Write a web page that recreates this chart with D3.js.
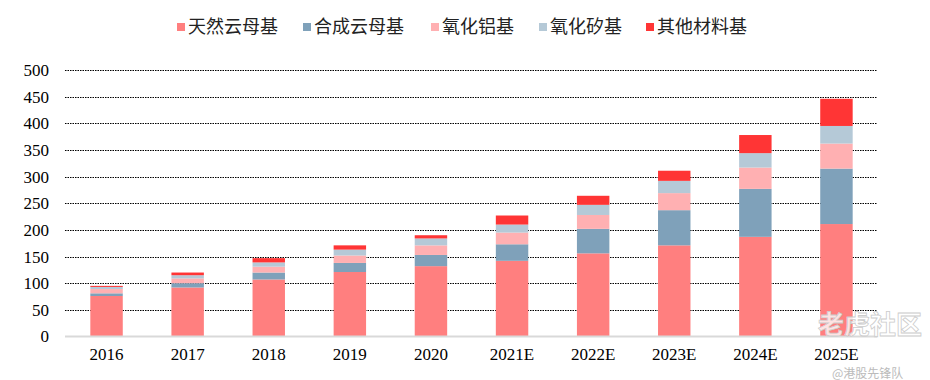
<!DOCTYPE html>
<html><head><meta charset="utf-8">
<script src="https://cdn.jsdelivr.net/npm/d3@7"></script>
<style>body{margin:0;background:#fff;} svg{display:block;}</style>
</head><body>
<script>
const categories = ["2016","2017","2018","2019","2020","2021E","2022E","2023E","2024E","2025E"];
const seriesNames = ["天然云母基","合成云母基","氧化铝基","氧化矽基","其他材料基"];
const natural   = [76, 92, 107, 121, 132, 142, 156, 171, 187, 211];
const synthetic = [5, 8, 13, 17, 21, 31, 46, 66, 90, 104];
const alumina   = [8, 9, 11, 14, 18, 22, 26, 32, 40, 47];
const silicon   = [4, 6, 8, 11, 13, 15, 19, 23, 27, 33];
const other     = [2, 5, 8, 8, 6, 17, 17, 19, 34, 51];
const yTicks = [0,50,100,150,200,250,300,350,400,450,500];
const colors = ["#FF7F7F","#7FA1BA","#FFB0B2","#B5C9D7","#FF3535"];

const W=930,H=380;
const svg=d3.select("body").append("svg").attr("width",W).attr("height",H);
const x=d3.scaleBand().domain(categories).range([66,877]).paddingInner(0.6).paddingOuter(0.3);
const y=d3.scaleLinear().domain([0,500]).range([336.5,70]);

// gridlines
svg.append("g").selectAll("line").data(yTicks.filter(d=>d>0)).join("line")
  .attr("x1",65).attr("x2",877).attr("y1",d=>Math.round(y(d))+0.5).attr("y2",d=>Math.round(y(d))+0.5)
  .attr("stroke","#000").attr("stroke-width",1).attr("stroke-dasharray","1.5,1");

const table=categories.map((c,i)=>({cat:c,s0:natural[i],s1:synthetic[i],s2:alumina[i],s3:silicon[i],s4:other[i]}));
const stack=d3.stack().keys(["s0","s1","s2","s3","s4"])(table);
svg.append("g").selectAll("g").data(stack).join("g").attr("fill",(d,i)=>colors[i])
  .selectAll("rect").data(d=>d).join("rect")
  .attr("x",d=>x(d.data.cat)).attr("width",x.bandwidth())
  .attr("y",d=>y(d[1])).attr("height",d=>y(d[0])-y(d[1]));

// baseline
svg.append("line").attr("x1",65).attr("x2",877).attr("y1",y(0)).attr("y2",y(0))
  .attr("stroke","#d9d9d9").attr("stroke-width",2);

// y axis
const ya=svg.append("g").attr("transform","translate(55,0)")
  .call(d3.axisLeft(y).tickValues(yTicks).tickSize(0).tickPadding(6));
ya.select(".domain").remove();
ya.selectAll("text").attr("font-family","'Liberation Serif','Times New Roman',serif").attr("font-size",17).attr("fill","#000");

// x axis
const xa=svg.append("g").attr("transform",`translate(0,${y(0)})`)
  .call(d3.axisBottom(x).tickSize(0).tickPadding(11));
xa.select(".domain").remove();
xa.selectAll("text").attr("font-family","'Liberation Serif','Times New Roman',serif").attr("font-size",17).attr("fill","#000");

// legend
const legX=[177,303,431,539,646];
const leg=svg.append("g").selectAll("g").data(seriesNames).join("g")
  .attr("transform",(d,i)=>`translate(${legX[i]},27)`);
leg.append("rect").attr("x",0).attr("y",-4).attr("width",8).attr("height",8).attr("fill",(d,i)=>colors[i]);
leg.append("text").attr("x",11).attr("y",0).attr("dy","0.36em")
  .attr("font-family","'Noto Sans CJK SC',sans-serif").attr("font-size",18).attr("fill","#222").text(d=>d);

// watermark
svg.append("text").attr("x",818).attr("y",334).attr("font-family","'Noto Sans CJK SC',sans-serif")
  .attr("font-size",26).attr("font-weight","bold").attr("fill","#fff").attr("fill-opacity",0.8)
  .attr("stroke","#ccc").attr("stroke-width",0.8).text("老虎社区");
svg.append("text").attr("x",832).attr("y",378).attr("font-family","'Noto Sans CJK SC',sans-serif")
  .attr("font-size",12).attr("fill","#bbb").text("@港股先锋队");
</script>
</body></html>
